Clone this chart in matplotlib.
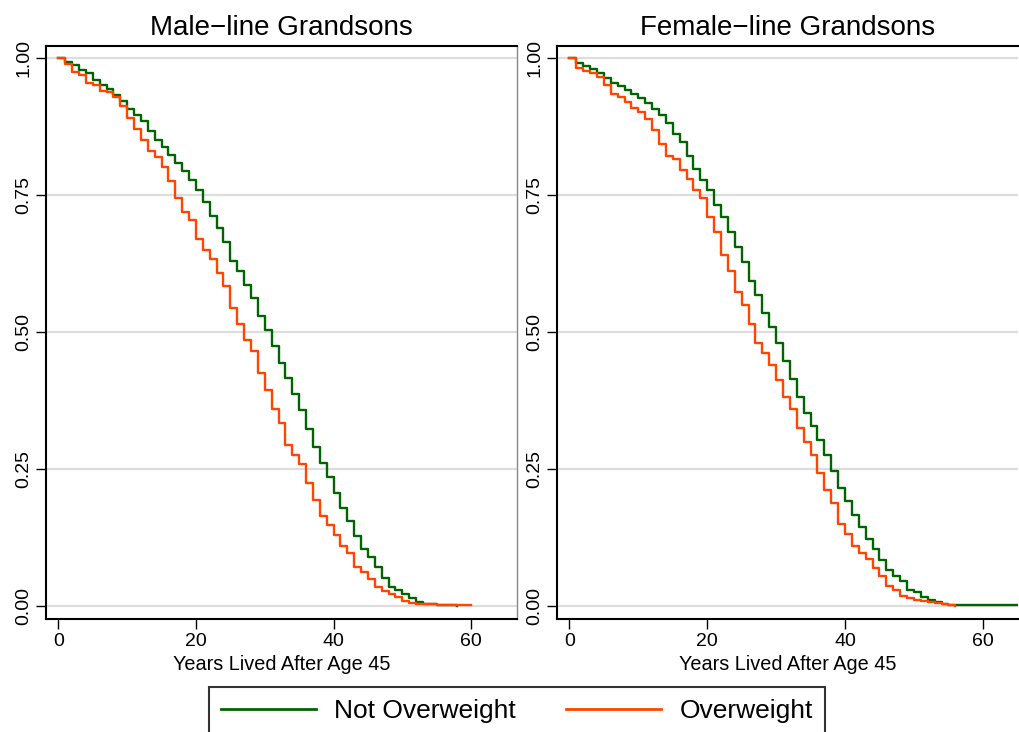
import matplotlib
matplotlib.use("Agg")
import matplotlib.pyplot as plt
from matplotlib.lines import Line2D

plt.rcParams['font.family'] = ['Liberation Sans', 'DejaVu Sans']

GREEN = "#006400"
ORANGE = "#FF4500"

# Kaplan-Meier estimates, one value per year
male_not_years = list(range(0, 59))
male_not_surv = [1.000, 0.994, 0.988, 0.979, 0.973, 0.961, 0.952, 0.944, 0.933, 0.922,
                 0.907, 0.897, 0.886, 0.868, 0.851, 0.838, 0.824, 0.810, 0.795, 0.778,
                 0.759, 0.737, 0.713, 0.690, 0.664, 0.630, 0.611, 0.586, 0.563, 0.530,
                 0.505, 0.475, 0.443, 0.416, 0.388, 0.358, 0.323, 0.290, 0.262, 0.236,
                 0.207, 0.179, 0.155, 0.127, 0.105, 0.090, 0.072, 0.051, 0.035, 0.029,
                 0.022, 0.014, 0.008, 0.004, 0.003, 0.002, 0.002, 0.001, 0.000]

male_over_years = list(range(0, 61))
male_over_surv = [1.000, 0.990, 0.976, 0.970, 0.955, 0.952, 0.941, 0.938, 0.930, 0.913,
                  0.892, 0.871, 0.852, 0.831, 0.820, 0.802, 0.776, 0.746, 0.720, 0.705,
                  0.670, 0.650, 0.634, 0.608, 0.585, 0.545, 0.515, 0.485, 0.465, 0.426,
                  0.395, 0.359, 0.334, 0.294, 0.276, 0.259, 0.225, 0.194, 0.165, 0.148,
                  0.130, 0.110, 0.096, 0.072, 0.062, 0.050, 0.035, 0.028, 0.022, 0.016,
                  0.010, 0.005, 0.003, 0.003, 0.003, 0.002, 0.001, 0.001, 0.001, 0.001,
                  0.001]

female_not_years = list(range(0, 66))
female_not_surv = [1.000, 0.992, 0.987, 0.980, 0.973, 0.964, 0.956, 0.950, 0.942, 0.935,
                   0.927, 0.919, 0.907, 0.897, 0.882, 0.862, 0.848, 0.821, 0.799, 0.778,
                   0.760, 0.733, 0.710, 0.684, 0.656, 0.628, 0.594, 0.568, 0.535, 0.510,
                   0.481, 0.448, 0.414, 0.381, 0.352, 0.328, 0.303, 0.276, 0.247, 0.215,
                   0.191, 0.166, 0.144, 0.123, 0.105, 0.084, 0.066, 0.054, 0.046, 0.029,
                   0.025, 0.016, 0.011, 0.007, 0.004, 0.002, 0.002, 0.002, 0.002, 0.002,
                   0.001, 0.001, 0.001, 0.001, 0.001, 0.001]

female_over_years = list(range(0, 57))
female_over_surv = [1.000, 0.982, 0.977, 0.973, 0.967, 0.952, 0.936, 0.930, 0.921, 0.910,
                    0.903, 0.889, 0.869, 0.843, 0.822, 0.816, 0.796, 0.779, 0.760, 0.746,
                    0.711, 0.683, 0.642, 0.611, 0.574, 0.549, 0.515, 0.481, 0.463, 0.440,
                    0.413, 0.381, 0.359, 0.326, 0.300, 0.276, 0.243, 0.211, 0.189, 0.150,
                    0.131, 0.110, 0.096, 0.086, 0.070, 0.054, 0.037, 0.029, 0.018, 0.014,
                    0.011, 0.009, 0.008, 0.005, 0.003, 0.001, 0.000]

titles = ["Male\u2212line Grandsons", "Female\u2212line Grandsons"]
labels = ["Not Overweight", "Overweight"]
yticks = [0, 0.25, 0.5, 0.75, 1.0]
ytick_labels = ["0.00", "0.25", "0.50", "0.75", "1.00"]
xticks = [0, 20, 40, 60]

fig = plt.figure(figsize=(10.19, 7.32), dpi=100)
ax1 = fig.add_axes([46 / 1019, 1 - 619 / 732, 471 / 1019, 573 / 732])
ax2 = fig.add_axes([557 / 1019, 1 - 619 / 732, 461 / 1019, 573 / 732])

panels = [
    (ax1, male_not_years, male_not_surv, male_over_years, male_over_surv, 66.67),
    (ax2, female_not_years, female_not_surv, female_over_years, female_over_surv, 65.1),
]

for i, (ax, gx, gy, ox, oy, xmax) in enumerate(panels):
    ax.step(gx, gy, where="post", color=GREEN, lw=1.7, zorder=3)
    ax.step(ox, oy, where="post", color=ORANGE, lw=1.7, zorder=3)

    ax.set_xlim(-1.8, xmax)
    ax.set_ylim(-0.0237, 1.0228)
    ax.set_yticks(yticks)
    ax.set_yticklabels(ytick_labels, rotation=90, va="center")
    ax.set_xticks(xticks)
    for y in yticks:
        ax.axhline(y, color="#DDDDDD", lw=1.6, zorder=1)
    ax.tick_params(axis="both", direction="out", length=7, width=1.0,
                   labelsize=14, pad=3, color="black")
    ax.set_title(titles[i], fontsize=20, pad=8)
    ax.set_xlabel("Years Lived After Age 45", fontsize=14.3, labelpad=4)

    for side in ["left", "bottom", "top"]:
        ax.spines[side].set_color("black")
        ax.spines[side].set_linewidth(1.5)
    ax.spines["right"].set_color("#888888")
    ax.spines["right"].set_linewidth(1.0)

ax2.spines["right"].set_visible(False)

handles = [Line2D([], [], color=GREEN, lw=2), Line2D([], [], color=ORANGE, lw=2)]
leg = fig.legend(handles, labels, ncol=2, loc="upper left",
                 bbox_to_anchor=(209 / 1019, 1 - 687 / 732), borderaxespad=0,
                 fontsize=19, frameon=True, fancybox=False, edgecolor="black",
                 handlelength=3.6, handletextpad=0.7, columnspacing=1.9,
                 borderpad=0.45)
leg.get_frame().set_linewidth(1.5)

fig.savefig("out.png", dpi=100)
